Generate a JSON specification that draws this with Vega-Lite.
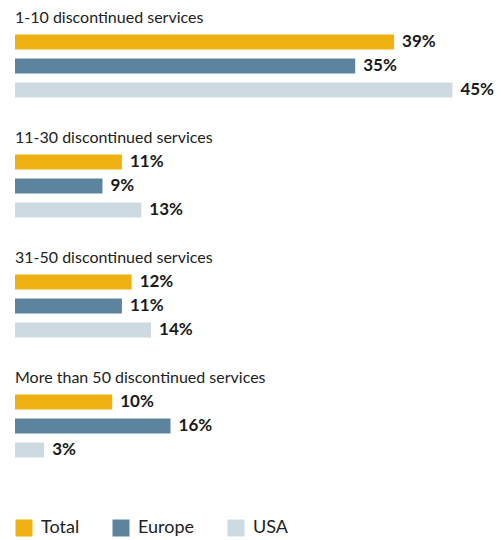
{
  "$schema": "https://vega.github.io/schema/vega-lite/v6.json",
  "width": 486,
  "height": 456,
  "autosize": {"type": "none"},
  "padding": {"left": 15, "top": 6, "right": 0, "bottom": 78},
  "config": {"view": {"stroke": null}, "font": "Lato"},
  "datasets": {
    "bars": [
      {"group": "1-10 discontinued services", "series": "Total", "value": 39},
      {"group": "1-10 discontinued services", "series": "Europe", "value": 35},
      {"group": "1-10 discontinued services", "series": "USA", "value": 45},
      {"group": "11-30 discontinued services", "series": "Total", "value": 11},
      {"group": "11-30 discontinued services", "series": "Europe", "value": 9},
      {"group": "11-30 discontinued services", "series": "USA", "value": 13},
      {"group": "31-50 discontinued services", "series": "Total", "value": 12},
      {"group": "31-50 discontinued services", "series": "Europe", "value": 11},
      {"group": "31-50 discontinued services", "series": "USA", "value": 14},
      {"group": "More than 50 discontinued services", "series": "Total", "value": 10},
      {"group": "More than 50 discontinued services", "series": "Europe", "value": 16},
      {"group": "More than 50 discontinued services", "series": "USA", "value": 3}
    ],
    "titles": [
      {"group": "1-10 discontinued services", "series": "title"},
      {"group": "11-30 discontinued services", "series": "title"},
      {"group": "31-50 discontinued services", "series": "title"},
      {"group": "More than 50 discontinued services", "series": "title"}
    ]
  },
  "layer": [
    {
      "data": {"name": "bars"},
      "transform": [{"calculate": "datum.group + '|' + datum.series", "as": "key"}],
      "mark": {"type": "bar"},
      "encoding": {
        "y": {
          "field": "key", "type": "nominal", "axis": null,
          "scale": {
            "domain": [
              "1-10 discontinued services|title", "1-10 discontinued services|Total", "1-10 discontinued services|Europe", "1-10 discontinued services|USA", "gap1",
              "11-30 discontinued services|title", "11-30 discontinued services|Total", "11-30 discontinued services|Europe", "11-30 discontinued services|USA", "gap2",
              "31-50 discontinued services|title", "31-50 discontinued services|Total", "31-50 discontinued services|Europe", "31-50 discontinued services|USA", "gap3",
              "More than 50 discontinued services|title", "More than 50 discontinued services|Total", "More than 50 discontinued services|Europe", "More than 50 discontinued services|USA"
            ],
            "paddingInner": 0.375,
            "paddingOuter": 0.1875
          }
        },
        "x": {"field": "value", "type": "quantitative", "axis": null, "scale": {"domain": [0, 50]}},
        "color": {
          "field": "series", "type": "nominal",
          "scale": {"domain": ["Total", "Europe", "USA"], "range": ["#EDB112", "#5D849E", "#CEDAE2"]},
          "legend": {
            "title": null, "orient": "bottom", "direction": "horizontal",
            "symbolType": "square", "symbolSize": 289, "symbolStrokeWidth": 0, "symbolOpacity": 1,
            "labelFontSize": 18, "labelColor": "#222222", "labelOffset": 8,
            "columnPadding": 32, "offset": 57, "padding": 0
          }
        }
      }
    },
    {
      "data": {"name": "bars"},
      "transform": [
        {"calculate": "datum.group + '|' + datum.series", "as": "key"},
        {"calculate": "datum.value + '%'", "as": "label"}
      ],
      "mark": {"type": "text", "align": "left", "baseline": "middle", "dx": 8, "fontWeight": "bold", "fontSize": 17, "color": "#1a1a1a"},
      "encoding": {
        "y": {"field": "key", "type": "nominal", "axis": null},
        "x": {"field": "value", "type": "quantitative", "axis": null},
        "text": {"field": "label"}
      }
    },
    {
      "data": {"name": "titles"},
      "transform": [{"calculate": "datum.group + '|' + datum.series", "as": "key"}],
      "mark": {"type": "text", "align": "left", "baseline": "middle", "fontSize": 16, "color": "#222222"},
      "encoding": {
        "y": {"field": "key", "type": "nominal", "axis": null},
        "x": {"datum": 0, "type": "quantitative"},
        "text": {"field": "group"}
      }
    }
  ]
}
